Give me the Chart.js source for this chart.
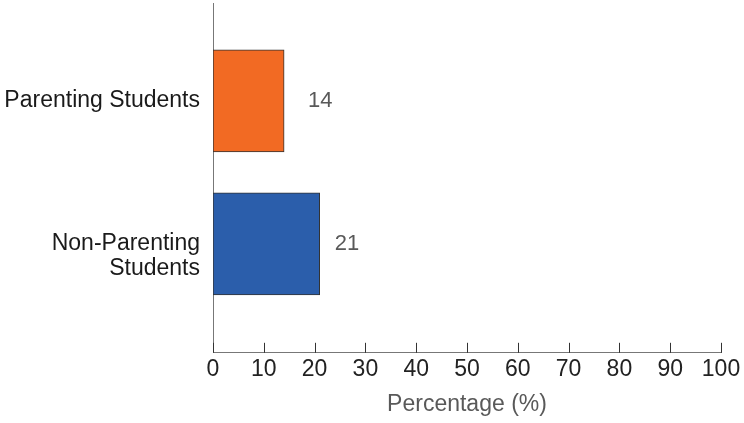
<!DOCTYPE html>
<html>
<head>
<meta charset="utf-8">
<script src="https://cdn.jsdelivr.net/npm/chart.js@4"></script>
<style>
  html, body { margin: 0; padding: 0; background: #fff; overflow: hidden; }
  #wrap { width: 744px; height: 423px; }
</style>
</head>
<body>
<div id="wrap"><canvas id="c" width="744" height="423"></canvas></div>
<script>
const categories = ["Parenting Students", ["Non-Parenting", "Students"]];
const values = [14, 21];
const barColors = ["#F26A23", "#2B5EAB"];
const xTicks = [0, 10, 20, 30, 40, 50, 60, 70, 80, 90, 100];
const xTitle = "Percentage (%)";

const FONT = "'Liberation Sans', Arial, sans-serif";

const valueLabels = {
  id: 'valueLabels',
  afterDatasetsDraw(chart, args, opts) {
    const ctx = chart.ctx;
    const meta = chart.getDatasetMeta(0);
    ctx.save();
    ctx.font = "22px " + FONT;
    ctx.fillStyle = "#595959";
    ctx.textAlign = "left";
    ctx.textBaseline = "middle";
    meta.data.forEach((bar, i) => {
      const off = opts.offsets[i] ?? 18;
      ctx.fillText(String(values[i]), bar.x + off, bar.y);
    });
    ctx.restore();
  }
};

const innerTicks = {
  id: 'innerTicks',
  afterDraw(chart) {
    const s = chart.scales.x;
    const ctx = chart.ctx;
    ctx.save();
    ctx.strokeStyle = "#333";
    ctx.lineWidth = 1;
    s.ticks.forEach(t => {
      const px = Math.round(s.getPixelForValue(t.value)) + 0.5;
      ctx.beginPath();
      ctx.moveTo(px, s.top - 10);
      ctx.lineTo(px, s.top);
      ctx.stroke();
    });
    ctx.restore();
  }
};

new Chart(document.getElementById('c'), {
  type: 'bar',
  data: {
    datasets: [{
      data: categories.map((c, i) => ({ x: values[i], y: i })),
      backgroundColor: barColors,
      borderColor: "#333",
      borderWidth: 1,
      borderSkipped: false,
      barThickness: 102
    }]
  },
  options: {
    indexAxis: 'y',
    responsive: false,
    animation: false,
    layout: { padding: { top: 3, right: 23, bottom: 4, left: 0 } },
    plugins: {
      legend: { display: false },
      tooltip: { enabled: false },
      valueLabels: { offsets: [24, 15] }
    },
    scales: {
      x: {
        type: 'linear',
        min: 0, max: 100,
        afterBuildTicks: (s) => { s.ticks = xTicks.map(v => ({ value: v })); },
        grid: { display: false, drawTicks: false },
        border: { display: true, color: "#777", width: 1 },
        ticks: { color: "#222", padding: 3, font: { family: FONT, size: 23 }, maxRotation: 0, autoSkip: false },
        title: { display: true, text: xTitle, color: "#595959", font: { family: FONT, size: 23 }, padding: { top: 4, bottom: 1 } }
      },
      y: {
        type: 'linear',
        reverse: true,
        offset: false,
        min: -0.685, max: 1.762,
        afterBuildTicks: (s) => { s.ticks = categories.map((c, i) => ({ value: i })); },
        afterFit: (s) => { s.width = 213; s.paddingTop = 0; s.paddingBottom = 0; },
        grid: { display: false, drawTicks: false },
        border: { display: true, color: "#777", width: 1 },
        ticks: {
          color: "#1a1a1a",
          padding: 13,
          font: { family: FONT, size: 23, lineHeight: 1.065 },
          callback: (v) => {
            const c = categories[v];
            return Array.isArray(c) ? [""].concat(c) : c;
          }
        }
      }
    }
  },
  plugins: [valueLabels, innerTicks]
});
</script>
</body>
</html>
